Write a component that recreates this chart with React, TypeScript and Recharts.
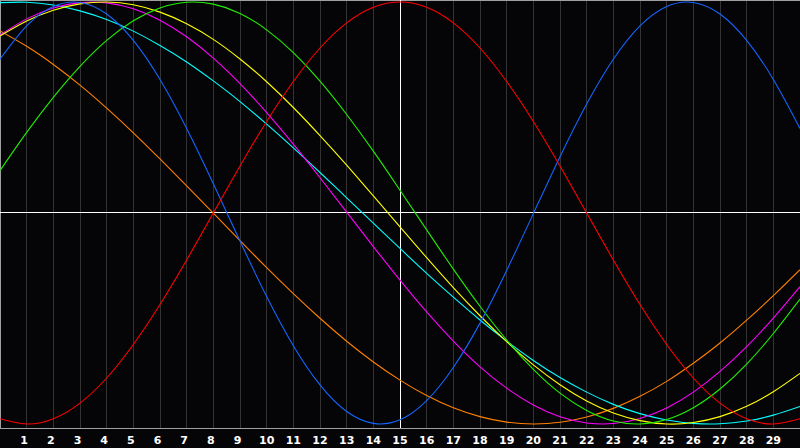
import React from 'react'
import {
  LineChart,
  Line,
  XAxis,
  YAxis,
  CartesianGrid,
  ReferenceLine,
} from 'recharts'

const xValues = [
  0, 1, 2, 3, 4, 5, 6, 7, 8, 9, 10, 11, 12, 13, 14, 15, 16, 17, 18, 19, 20,
  21, 22, 23, 24, 25, 26, 27, 28, 29, 30,
]

const tickValues = [
  1, 2, 3, 4, 5, 6, 7, 8, 9, 10, 11, 12, 13, 14, 15, 16, 17, 18, 19, 20, 21,
  22, 23, 24, 25, 26, 27, 28, 29,
]

const red = [
  -0.975, -1.0, -0.975, -0.901, -0.782, -0.623, -0.434, -0.223, 0, 0.223,
  0.434, 0.623, 0.782, 0.901, 0.975, 1.0, 0.975, 0.901, 0.782, 0.623, 0.434,
  0.223, 0, -0.223, -0.434, -0.623, -0.782, -0.901, -0.975, -1.0, -0.975,
]

const blue = [
  0.729, 0.887, 0.979, 0.998, 0.943, 0.818, 0.633, 0.401, 0.139, -0.133,
  -0.396, -0.629, -0.815, -0.941, -0.997, -0.98, -0.889, -0.732, -0.522,
  -0.272, -0.003, 0.267, 0.517, 0.729, 0.887, 0.979, 0.998, 0.943, 0.818,
  0.633, 0.401,
]

const green = [
  0.201, 0.382, 0.548, 0.695, 0.818, 0.911, 0.972, 0.999, 0.99, 0.946, 0.868,
  0.76, 0.625, 0.467, 0.293, 0.108, -0.08, -0.266, -0.442, -0.602, -0.741,
  -0.854, -0.936, -0.986, -1.0, -0.979, -0.923, -0.834, -0.716, -0.571,
  -0.408,
]

const yellow = [
  0.839, 0.91, 0.961, 0.991, 1.0, 0.987, 0.952, 0.897, 0.823, 0.73, 0.622,
  0.5, 0.367, 0.227, 0.081, -0.066, -0.212, -0.354, -0.487, -0.61, -0.72,
  -0.814, -0.891, -0.948, -0.984, -1.0, -0.993, -0.965, -0.916, -0.847,
  -0.76,
]

const magenta = [
  0.844, 0.92, 0.972, 0.997, 0.996, 0.968, 0.914, 0.835, 0.734, 0.613, 0.476,
  0.326, 0.167, 0.004, -0.159, -0.318, -0.469, -0.607, -0.729, -0.83, -0.91,
  -0.966, -0.995, -0.998, -0.974, -0.924, -0.849, -0.751, -0.633, -0.498,
  -0.349,
]

const cyan = [
  0.997, 0.999, 0.986, 0.958, 0.917, 0.862, 0.794, 0.716, 0.626, 0.528, 0.421,
  0.309, 0.192, 0.072, -0.048, -0.168, -0.286, -0.399, -0.507, -0.607,
  -0.699, -0.78, -0.849, -0.907, -0.951, -0.981, -0.997, -0.999, -0.986,
  -0.958, -0.917,
]

const orange = [
  0.863, 0.79, 0.704, 0.606, 0.497, 0.38, 0.256, 0.129, -0.001, -0.131,
  -0.259, -0.382, -0.499, -0.608, -0.706, -0.792, -0.865, -0.923, -0.965,
  -0.991, -1.0, -0.992, -0.967, -0.926, -0.869, -0.798, -0.712, -0.616,
  -0.508, -0.392, -0.269,
]

const data = xValues.map((x, i) => ({
  x,
  red: red[i],
  blue: blue[i],
  green: green[i],
  yellow: yellow[i],
  magenta: magenta[i],
  cyan: cyan[i],
  orange: orange[i],
}))

const series = [
  { key: 'orange', color: '#ff8000' },
  { key: 'cyan', color: '#00ffff' },
  { key: 'magenta', color: '#ff00ff' },
  { key: 'yellow', color: '#ffff00' },
  { key: 'green', color: '#22ee00' },
  { key: 'blue', color: '#1466ff' },
  { key: 'red', color: '#ff0000' },
]

const Y_MIN = -1.019
const Y_MAX = 1.0095

function Tick(props: any) {
  const { x, y, payload } = props
  const label = String(payload.value)
  return (
    <text
      x={x + (label.length === 1 ? -2.5 : 0)}
      y={y}
      dy="0.71em"
      textAnchor="middle"
      fill="#ffffff"
      fontSize={11}
      fontWeight="bold"
      fontFamily="DejaVu Sans, sans-serif"
    >
      {label}
    </text>
  )
}

export default function App() {
  return (
    <div
      style={{
        position: 'fixed',
        left: 0,
        top: 0,
        width: 800,
        height: 448,
        background: '#050508',
      }}
    >
      <LineChart
        width={800}
        height={448}
        data={data}
        margin={{ top: 0, right: 0, left: 0, bottom: 0 }}
      >
        <CartesianGrid
          stroke="#333333"
          horizontal={false}
          shapeRendering="crispEdges"
        />
        <XAxis
          dataKey="x"
          type="number"
          domain={[0, 30]}
          ticks={tickValues}
          height={20}
          tickLine={false}
          axisLine={{ stroke: '#a0a0a0', shapeRendering: 'crispEdges' }}
          tick={<Tick />}
          interval={0}
        />
        <YAxis hide domain={[Y_MIN, Y_MAX]} type="number" />
        <ReferenceLine y={Y_MAX} stroke="#a0a0a0" strokeWidth={2} />
        <ReferenceLine x={0} stroke="#a0a0a0" strokeWidth={2} />
        <ReferenceLine y={0} stroke="#ffffff" shapeRendering="crispEdges" />
        <ReferenceLine x={15} stroke="#ffffff" shapeRendering="crispEdges" />
        {series.map((s) => (
          <Line
            key={s.key}
            type="natural"
            dataKey={s.key}
            stroke={s.color}
            strokeWidth={1.1}
            dot={false}
            activeDot={false}
            isAnimationActive={false}
          />
        ))}
      </LineChart>
    </div>
  )
}
